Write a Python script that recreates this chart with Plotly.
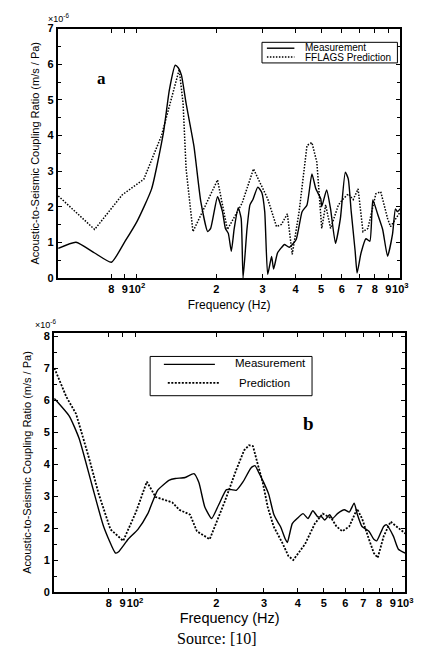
import plotly.graph_objects as go

# ---------------- data: panel a ----------------
a_meas_freq = [50.3, 58.7, 69.1, 80, 90.2, 100, 113.7, 126.1, 132.8, 139.8, 143.5, 147.5, 153.7,
               164.6, 174.8, 185.6, 190.5, 202.3, 211.2, 216.7, 222.3, 228.2, 234.1, 242.4, 248.7,
               252.9, 261.8, 268.6, 275.6, 287.7, 297.8, 305.6, 313.6, 324.5, 330.2, 341.7, 353.6,
               362.9, 378.8, 402.3, 423.6, 442.2, 461.6, 477.8, 498.8, 503, 525, 543.3, 567.2,
               592.1, 618.1, 634.2, 650.8, 673.6, 685.2, 709.1, 740.2, 766.2, 786.2, 820.9, 856.7,
               894.3, 933.5, 957.9, 974.5, 1000]
a_meas_val = [0.83, 1.0, 0.7, 0.44, 1.03, 1.58, 2.5, 4.08, 5.28, 5.97, 5.9, 5.7, 4.9,
              3.7, 2.14, 1.3, 1.39, 2.28, 1.86, 1.39, 1.25, 0.75, 1.39, 1.97, 1.67,
              0.0, 1.39, 2.05, 2.2, 2.55, 2.4, 1.86, 0.1, 0.6, 0.25, 0.7, 0.85,
              0.94, 0.86, 1.08, 1.86, 2.05, 2.92, 2.5, 2.22, 2.0, 2.47, 1.94, 0.97,
              1.67, 2.97, 2.78, 1.86, 0.75, 0.14, 0.7, 1.1, 1.03, 2.19, 1.78, 1.36,
              0.61, 1.22, 1.94, 1.86, 1.94]

a_pred_freq = [50.3, 69.1, 87.9, 106.2, 124, 144.7, 149.7, 153.7, 163.2, 202.3, 220.5, 250.8,
               277, 313.6, 338.8, 353.6, 372.4, 388.7, 412.8, 442.2, 461.6, 481.9, 503, 520.6,
               543.3, 582, 607.5, 634.2, 662.1, 691.1, 721.4, 753.1, 806.9, 842.3, 894.3,
               917.6, 1000]
a_pred_val = [2.3, 1.36, 2.33, 2.77, 4.0, 5.85, 4.9, 3.06, 1.3, 2.75, 1.36, 2.1,
              3.06, 2.22, 1.44, 1.5, 1.8, 0.66, 1.86, 3.72, 3.8, 3.25, 1.39, 2.05,
              1.39, 2.05, 2.22, 2.36, 2.2, 2.5, 1.3, 1.39, 2.36, 2.42, 1.67,
              1.44, 1.86]

# ---------------- data: panel b ----------------
b_meas_freq = [50.3, 57.1, 62.1, 69.2, 76.5, 84.6, 86.7, 94.3, 102.5, 111.5, 121.2, 134, 141,
               153.3, 165.2, 172.3, 181.2, 192.1, 203.8, 217.9, 227.2, 236.9, 251.2, 268.6,
               277.8, 287.2, 299.5, 312.3, 325.7, 336.8, 345.3, 360.1, 366.2, 381.8, 398.1,
               418.7, 436.5, 455.1, 474.7, 490.8, 503.4, 524.8, 538.2, 561.3, 595, 620.4,
               647.1, 663.5, 691.8, 733.8, 764.9, 784.4, 831.8, 853, 904.4, 943.1, 1000]
b_meas_val = [6.05, 5.5, 4.8, 3.36, 2.05, 1.22, 1.25, 1.65, 1.96, 2.45, 3.18, 3.5, 3.55,
              3.58, 3.7, 3.42, 2.66, 2.3, 2.72, 3.2, 3.2, 3.18, 3.45, 3.88,
              3.95, 3.73, 3.42, 3.06, 2.45, 2.2, 2.05, 1.65, 1.55, 2.14, 2.3,
              2.45, 2.3, 2.54, 2.35, 2.35, 2.25, 2.42, 2.3, 2.45, 2.57, 2.5,
              2.78, 2.45, 2.05, 1.9, 1.65, 1.6, 2.05, 2.1, 1.74, 1.34, 1.22]

b_pred_freq = [50.3, 55.7, 60.5, 67.5, 73.4, 81.1, 90.4, 100.8, 110.6, 119.2, 137.4, 145.8,
               159.8, 169.4, 189, 214.2, 236.9, 253.3, 264.2, 273.2, 284.8, 297, 309.7,
               325.7, 351.2, 369.2, 385, 425.8, 462.9, 495, 533.7, 556.6, 585.1, 620.4,
               663.5, 691.8, 733.8, 764.9, 791, 831.8, 882, 927.5, 1000]
b_pred_val = [7.0, 6.1, 5.57, 4.2, 3.06, 1.96, 1.6, 2.5, 3.45, 2.97, 2.8, 2.57,
              2.42, 1.9, 1.65, 2.8, 3.82, 4.43, 4.59, 4.56, 3.98, 3.42, 2.66,
              2.05, 1.53, 1.13, 1.0, 1.5, 2.14, 2.45, 2.3, 2.05, 1.9, 2.05,
              2.6, 2.3, 1.65, 1.22, 1.07, 1.74, 2.2, 2.05, 1.83]

x_tick_vals = [80, 90, 100, 200, 300, 400, 500, 600, 700, 800, 900, 1000]
x_tick_text = ["8", "9", "10<sup>2</sup>", "2", "3", "4", "5", "6", "7", "8", "9", "10<sup>3</sup>"]
a_y_ticks = [0, 1, 2, 3, 4, 5, 6, 7]
b_y_ticks = [0, 1, 2, 3, 4, 5, 6, 7, 8]

W, H = 427, 654
def px_x(p):
    return p / W
def px_y(p):
    return 1 - p / H

fig = go.Figure()

sans = "Arial"
serif = "Times New Roman"

fig.add_trace(go.Scatter(x=a_meas_freq, y=a_meas_val, mode="lines", name="Measurement",
                         line=dict(color="black", width=1.4, shape="spline", smoothing=0.5),
                         xaxis="x", yaxis="y", showlegend=False))
fig.add_trace(go.Scatter(x=a_pred_freq, y=a_pred_val, mode="lines", name="FFLAGS Prediction",
                         line=dict(color="black", width=1.5, dash="1.5px,1.5px"),
                         xaxis="x", yaxis="y", showlegend=False))
fig.add_trace(go.Scatter(x=b_meas_freq, y=b_meas_val, mode="lines", name="Measurement",
                         line=dict(color="black", width=1.4, shape="spline", smoothing=0.5),
                         xaxis="x2", yaxis="y2", showlegend=False))
fig.add_trace(go.Scatter(x=b_pred_freq, y=b_pred_val, mode="lines", name="Prediction",
                         line=dict(color="black", width=1.8, dash="2px,1.5px"),
                         xaxis="x2", yaxis="y2", showlegend=False))

tickfont = dict(family=sans, size=11, color="black", weight="bold")

common_x = dict(type="log", range=[1.7, 3.0], tickvals=x_tick_vals, ticktext=x_tick_text,
                tickangle=0,
                ticks="inside", ticklen=4, tickcolor="black", showline=True, linecolor="black",
                linewidth=2, mirror="allticks", showgrid=False, zeroline=False, tickfont=tickfont)
common_y = dict(ticks="inside", ticklen=4, tickcolor="black", showline=True, linecolor="black",
                linewidth=2, mirror="allticks", showgrid=False, zeroline=False, tickfont=tickfont,
                minor=dict(dtick=0.5, ticks="inside", ticklen=3, tickcolor="black"))

fig.update_layout(
    width=W, height=H,
    margin=dict(l=0, r=0, t=0, b=0),
    paper_bgcolor="white", plot_bgcolor="white",
    xaxis=dict(common_x, domain=[px_x(59), px_x(408)], anchor="y",
               title=dict(text="Frequency (Hz)", font=dict(family=sans, size=12, color="black"),
                          standoff=6)),
    yaxis=dict(common_y, domain=[px_y(277), px_y(23)], anchor="x", range=[0, 7],
               tickvals=a_y_ticks,
               title=dict(text="Acoustic-to-Seismic Coupling Ratio (m/s / Pa)",
                          font=dict(family=sans, size=11, color="black"), standoff=6)),
    xaxis2=dict(common_x, domain=[px_x(55), px_x(413)], anchor="y2",
                title=dict(text="Frequency (Hz)", font=dict(family=sans, size=14.5, color="black"),
                           standoff=5)),
    yaxis2=dict(common_y, domain=[px_y(597), px_y(333)], anchor="x2", range=[0, 8.1],
                tickvals=b_y_ticks,
                title=dict(text="Acoustic-to-Seismic Coupling Ratio (m/s / Pa)",
                           font=dict(family=sans, size=11, color="black"), standoff=10)),
)

# ---- legends (drawn as boxes with line samples) ----
shapes = []
annos = []
# panel a legend
shapes.append(dict(type="rect", xref="paper", yref="paper", x0=px_x(267), x1=px_x(405),
                   y0=px_y(58), y1=px_y(37), line=dict(color="black", width=1), fillcolor="white"))
shapes.append(dict(type="line", xref="paper", yref="paper", x0=px_x(272), x1=px_x(300),
                   y0=px_y(43), y1=px_y(43), line=dict(color="black", width=1.4)))
shapes.append(dict(type="line", xref="paper", yref="paper", x0=px_x(272), x1=px_x(300),
                   y0=px_y(52), y1=px_y(52), line=dict(color="black", width=1.4, dash="1.5px,1.5px")))
annos.append(dict(text="Measurement", x=px_x(309), y=px_y(42.5), xref="paper", yref="paper",
                  xanchor="left", yanchor="middle", showarrow=False,
                  font=dict(family=sans, size=10, color="black")))
annos.append(dict(text="FFLAGS Prediction", x=px_x(309), y=px_y(52.5), xref="paper", yref="paper",
                  xanchor="left", yanchor="middle", showarrow=False,
                  font=dict(family=sans, size=10, color="black")))
# panel b legend
shapes.append(dict(type="rect", xref="paper", yref="paper", x0=px_x(153), x1=px_x(318),
                   y0=px_y(397), y1=px_y(357), line=dict(color="black", width=1), fillcolor="white"))
shapes.append(dict(type="line", xref="paper", yref="paper", x0=px_x(167), x1=px_x(219),
                   y0=px_y(365), y1=px_y(365), line=dict(color="black", width=1.2)))
shapes.append(dict(type="line", xref="paper", yref="paper", x0=px_x(171), x1=px_x(223),
                   y0=px_y(384), y1=px_y(384), line=dict(color="black", width=1.8, dash="2px,1.5px")))
annos.append(dict(text="Measurement", x=px_x(276), y=px_y(364), xref="paper", yref="paper",
                  xanchor="center", yanchor="middle", showarrow=False,
                  font=dict(family=sans, size=11.5, color="black")))
annos.append(dict(text="Prediction", x=px_x(270), y=px_y(384), xref="paper", yref="paper",
                  xanchor="center", yanchor="middle", showarrow=False,
                  font=dict(family=sans, size=11.5, color="black")))

# panel labels, exponents, source
annos.append(dict(text="<b>a</b>", x=px_x(97), y=px_y(62), xref="paper", yref="paper",
                  showarrow=False, font=dict(family=serif, size=17, color="black")))
annos.append(dict(text="<b>b</b>", x=px_x(322), y=px_y(438), xref="paper", yref="paper",
                  showarrow=False, font=dict(family=serif, size=19, color="black")))
annos.append(dict(text="×10<sup>-6</sup>", x=px_x(47), y=px_y(12), xref="paper", yref="paper",
                  xanchor="left", yanchor="middle", showarrow=False,
                  font=dict(family=sans, size=9, color="black")))
annos.append(dict(text="×10<sup>-6</sup>", x=px_x(34), y=px_y(324), xref="paper", yref="paper",
                  xanchor="left", yanchor="middle", showarrow=False,
                  font=dict(family=sans, size=9, color="black")))
annos.append(dict(text="Source: [10]", x=px_x(221), y=px_y(644), xref="paper", yref="paper",
                  xanchor="center", yanchor="middle", showarrow=False,
                  font=dict(family=serif, size=16, color="black")))

fig.update_layout(shapes=shapes, annotations=annos)

fig.write_html("out.html")
